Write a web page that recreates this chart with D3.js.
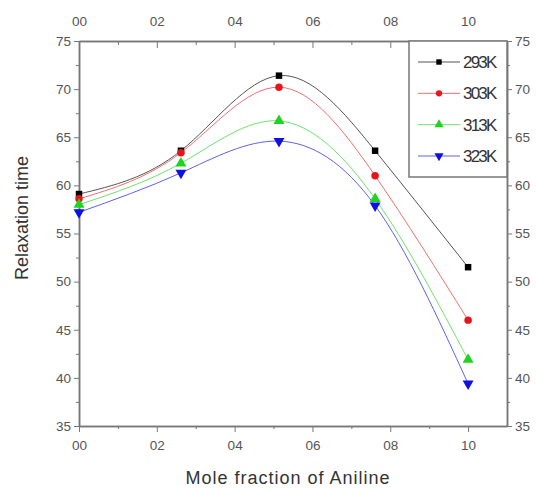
<!DOCTYPE html>
<html>
<head>
<meta charset="utf-8">
<script src="https://cdn.jsdelivr.net/npm/d3@7"></script>
<style>
body { margin: 0; background: #fff; }
svg { font-family: "Liberation Sans", Arial, sans-serif; }
.tick text { fill: #555; font-size: 13.5px; }
.axis path, .axis line { stroke: #777; }
</style>
</head>
<body>
<svg width="536" height="489"></svg>
<script>
var moleFraction = [0, 0.262, 0.514, 0.761, 1.0];
var series = ['293K', '303K', '313K', '323K'];
var t293 = [59.1, 63.6, 71.4, 63.6, 51.5];
var t303 = [58.6, 63.4, 70.2, 61.0, 46.0];
var t313 = [58.0, 62.3, 66.7, 58.6, 41.9];
var t323 = [57.2, 61.3, 64.6, 57.9, 39.4];
var xTicks = [0, 0.2, 0.4, 0.6, 0.8, 1.0];
var xTickLabels = ['00', '02', '04', '06', '08', '10'];
var yTicks = [35, 40, 45, 50, 55, 60, 65, 70, 75];

var colors = ['#000000', '#e8141c', '#1fd41f', '#1010e0'];
var lineColors = ['#555555', '#f07070', '#70e070', '#6060ee'];
var symbols = [d3.symbolSquare, d3.symbolCircle, d3.symbolTriangle, 'down'];
var values = [t293, t303, t313, t323];

var svg = d3.select('svg');

var xScale = d3.scaleLinear()
    .domain([0, 1.1])
    .range([79, 507]);

var yScale = d3.scaleLinear()
    .domain([35, 75])
    .range([426, 41]);

// minor ticks
var xMinor = d3.range(0.1, 1.1, 0.2);
var yMinor = d3.range(37.5, 75, 5);

svg.append('g')
    .attr('class', 'x axis')
    .attr('transform', 'translate(0,426)')
    .call(d3.axisBottom(xScale).tickValues(xTicks)
        .tickFormat(function(d, i){ return xTickLabels[i]; })
        .tickSize(6).tickPadding(8).tickSizeOuter(0));

svg.append('g')
    .attr('class', 'x axis top')
    .attr('transform', 'translate(0,41)')
    .call(d3.axisTop(xScale).tickValues(xTicks)
        .tickFormat(function(d, i){ return xTickLabels[i]; })
        .tickSize(-7).tickPadding(15).tickSizeOuter(0));

svg.append('g')
    .attr('class', 'y axis')
    .attr('transform', 'translate(79,0)')
    .call(d3.axisLeft(yScale).tickValues(yTicks).tickSize(5).tickPadding(3).tickSizeOuter(0));

svg.append('g')
    .attr('class', 'y axis')
    .attr('transform', 'translate(507,0)')
    .call(d3.axisRight(yScale).tickValues(yTicks).tickSize(5).tickPadding(3).tickSizeOuter(0));

svg.append('g').attr('class', 'axis')
    .attr('transform', 'translate(0,426)')
    .call(d3.axisBottom(xScale).tickValues(xMinor).tickFormat('').tickSize(3).tickSizeOuter(0));
svg.append('g').attr('class', 'axis')
    .attr('transform', 'translate(0,41)')
    .call(d3.axisTop(xScale).tickValues(xMinor).tickFormat('').tickSize(-4).tickSizeOuter(0));
svg.append('g').attr('class', 'axis')
    .attr('transform', 'translate(79,0)')
    .call(d3.axisLeft(yScale).tickValues(yMinor).tickFormat('').tickSize(3).tickSizeOuter(0));
svg.append('g').attr('class', 'axis')
    .attr('transform', 'translate(507,0)')
    .call(d3.axisRight(yScale).tickValues(yMinor).tickFormat('').tickSize(3).tickSizeOuter(0));

svg.selectAll('.axis path').attr('stroke-width', 1.5);

var line = d3.line()
    .x(function(d, i){ return xScale(moleFraction[i]); })
    .y(function(d){ return yScale(d); })
    .curve(d3.curveNatural);

function symbolPath(s, size) {
    if (s === 'down') {
        return d3.symbol().type(d3.symbolTriangle).size(size)();
    }
    return d3.symbol().type(s).size(size)();
}

var sizes = [42, 44, 52, 52];

values.forEach(function(vals, k){
    svg.append('path')
        .attr('d', line(vals))
        .attr('fill', 'none')
        .attr('stroke', lineColors[k])
        .attr('stroke-width', 1);
});

values.forEach(function(vals, k){
    svg.selectAll('.m' + k)
        .data(vals)
        .enter()
        .append('path')
        .attr('class', 'm' + k)
        .attr('d', symbolPath(symbols[k], sizes[k]))
        .attr('transform', function(d, i){
            var r = symbols[k] === 'down' ? ' rotate(180)' : '';
            return 'translate(' + xScale(moleFraction[i]) + ',' + yScale(d) + ')' + r;
        })
        .attr('fill', colors[k]);
});

// legend
var legend = svg.append('g');
legend.append('rect')
    .attr('x', 409).attr('y', 41)
    .attr('width', 98).attr('height', 136)
    .attr('fill', '#fff')
    .attr('stroke', '#777')
    .attr('stroke-width', 1.5);

var legendY = d3.scalePoint().domain(series).range([62, 156]);

series.forEach(function(name, k){
    var y = legendY(name);
    legend.append('line')
        .attr('x1', 418).attr('x2', 460)
        .attr('y1', y).attr('y2', y)
        .attr('stroke', lineColors[k]);
    legend.append('path')
        .attr('d', symbolPath(symbols[k], sizes[k] * 0.7))
        .attr('transform', 'translate(439,' + y + ')' + (symbols[k] === 'down' ? ' rotate(180)' : ''))
        .attr('fill', colors[k]);
    legend.append('text')
        .attr('x', 463).attr('y', y + 6)
        .attr('font-size', 17)
        .attr('letter-spacing', -1.8)
        .attr('fill', '#333')
        .text(name);
});

svg.append('text')
    .attr('transform', 'translate(288,484)')
    .attr('text-anchor', 'middle')
    .attr('font-size', 18)
    .attr('letter-spacing', 1)
    .attr('fill', '#333')
    .text('Mole fraction of Aniline');

svg.append('text')
    .attr('transform', 'translate(28,218) rotate(-90)')
    .attr('text-anchor', 'middle')
    .attr('font-size', 18)
    .attr('fill', '#333')
    .text('Relaxation time');
</script>
</body>
</html>
